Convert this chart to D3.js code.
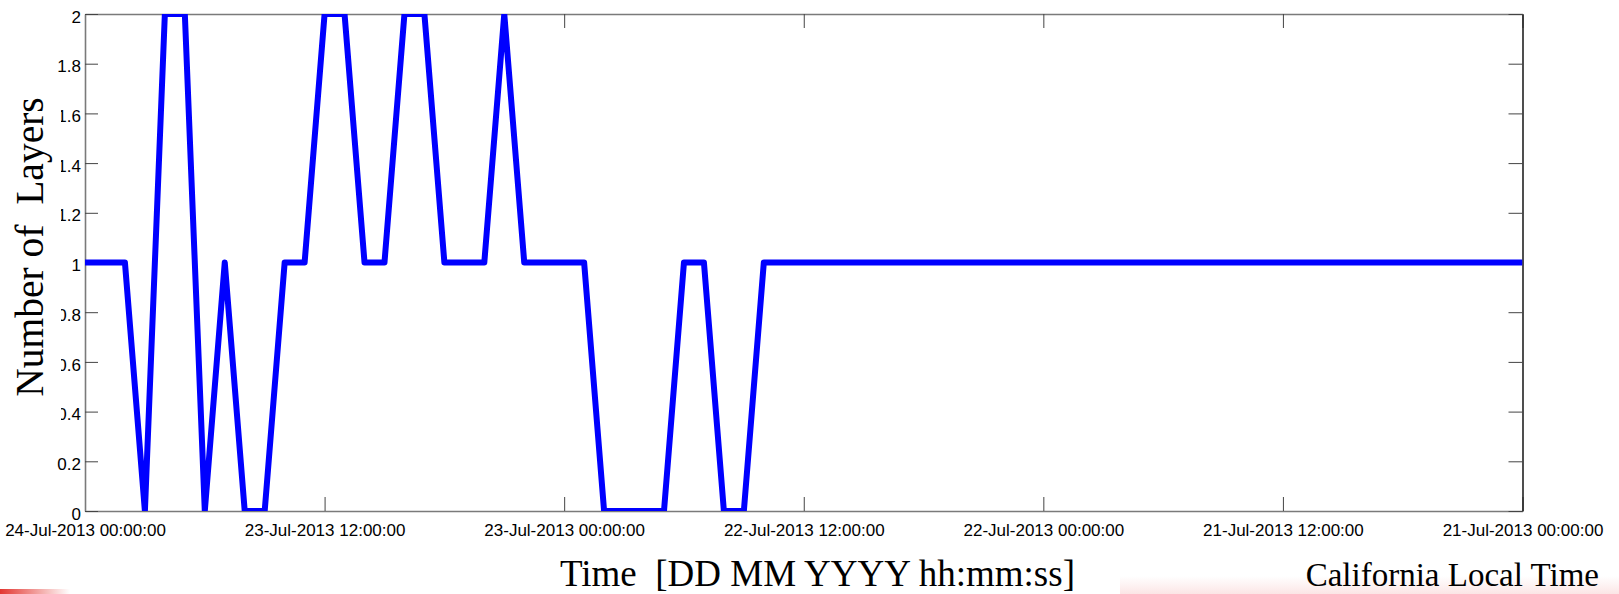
<!DOCTYPE html>
<html>
<head>
<meta charset="utf-8">
<script src="https://cdn.jsdelivr.net/npm/d3@7"></script>
<style>
  html, body { margin: 0; padding: 0; background: #fff; }
  svg { display: block; }
</style>
</head>
<body>
<div id="chart"></div>
<script>
// hourly number of layers, read left to right (24-Jul 00:00 back to 21-Jul 00:00)
var layers = [
  1, 1, 1, 0, 2, 2, 0, 1, 0, 0,
  1, 1, 2, 2, 1, 1, 2, 2, 1, 1,
  1, 2, 1, 1, 1, 1, 0, 0, 0, 0,
  1, 1, 0, 0, 1, 1, 1, 1, 1, 1,
  1, 1, 1, 1, 1, 1, 1, 1, 1, 1,
  1, 1, 1, 1, 1, 1, 1, 1, 1, 1,
  1, 1, 1, 1, 1, 1, 1, 1, 1, 1,
  1, 1, 1
];

var xTickLabels = [
  "24-Jul-2013 00:00:00", "23-Jul-2013 12:00:00", "23-Jul-2013 00:00:00",
  "22-Jul-2013 12:00:00", "22-Jul-2013 00:00:00", "21-Jul-2013 12:00:00",
  "21-Jul-2013 00:00:00"
];
var yTicks = [0, 0.2, 0.4, 0.6, 0.8, 1, 1.2, 1.4, 1.6, 1.8, 2];

var yTitle = "Number of  Layers";
var xTitle = "Time  [DD MM YYYY hh:mm:ss]";
var note = "California Local Time";

var width = 1619, height = 594;
var margin = {top: 14, right: 96.5, bottom: 83, left: 85};
var tickFont = "'Liberation Sans', Arial, sans-serif";
var titleFont = "'Liberation Serif', 'Times New Roman', serif";
var frameColor = "#7a7a7a";

var parseTime = d3.utcParse("%d-%b-%Y %H:%M:%S");
var formatTime = d3.utcFormat("%d-%b-%Y %H:%M:%S");
var xTickValues = xTickLabels.map(parseTime);

// hourly sample times, newest first so they line up with layers
var sampleTimes = d3.utcHour.range(
  xTickValues[xTickValues.length - 1],
  d3.utcHour.offset(xTickValues[0], 1)
).reverse();
var data = layers.map(function(v, i){ return {t: sampleTimes[i], v: v}; });

var svg = d3.select("#chart").append("svg")
  .attr("width", width)
  .attr("height", height);

// faint slide decoration along the bottom
var defs = svg.append("defs");
var pink = defs.append("linearGradient").attr("id", "pink")
  .attr("x1", 0).attr("y1", 0).attr("x2", 0).attr("y2", 1);
pink.append("stop").attr("offset", "0%").attr("stop-color", "#f3b0b0").attr("stop-opacity", 0);
pink.append("stop").attr("offset", "100%").attr("stop-color", "#f3a8a8").attr("stop-opacity", 0.3);
var red = defs.append("linearGradient").attr("id", "red");
red.append("stop").attr("offset", "0%").attr("stop-color", "#e0201a").attr("stop-opacity", 0.9);
red.append("stop").attr("offset", "100%").attr("stop-color", "#e0201a").attr("stop-opacity", 0);
svg.append("rect").attr("x", 1120).attr("y", 576).attr("width", 499).attr("height", 18)
  .attr("fill", "url(#pink)");
svg.append("rect").attr("x", 0).attr("y", 589).attr("width", 70).attr("height", 5)
  .attr("fill", "url(#red)");

var x = d3.scaleUtc()
  .domain([xTickValues[0], xTickValues[xTickValues.length - 1]])
  .range([margin.left, width - margin.right]);

var y = d3.scaleLinear()
  .domain([0, 2])
  .range([height - margin.bottom, margin.top]);

defs.append("clipPath").attr("id", "plotClip")
  .append("rect")
  .attr("x", margin.left).attr("y", margin.top)
  .attr("width", width - margin.left - margin.right)
  .attr("height", height - margin.top - margin.bottom);

var fmtY = function(d){ return String(+d.toFixed(1)); };

function styleAxis(g){
  g.select(".domain").attr("stroke", frameColor).attr("stroke-width", 1.6);
  g.selectAll(".tick line").attr("stroke", "#444").attr("stroke-width", 1);
  g.selectAll(".tick text")
    .attr("fill", "#000")
    .style("font-family", tickFont)
    .style("font-size", "17px");
}

// bottom axis with labels
svg.append("g")
  .attr("transform", "translate(0," + (height - margin.bottom) + ")")
  .call(d3.axisBottom(x).tickValues(xTickValues).tickFormat(formatTime)
    .tickSizeInner(-14).tickSizeOuter(0).tickPadding(13))
  .call(styleAxis);

// top axis, ticks only
svg.append("g")
  .attr("transform", "translate(0," + margin.top + ")")
  .call(d3.axisTop(x).tickValues(xTickValues).tickFormat("")
    .tickSizeInner(-14).tickSizeOuter(0))
  .call(styleAxis);

// left axis with labels
svg.append("g")
  .attr("transform", "translate(" + margin.left + ",0)")
  .call(d3.axisLeft(y).tickValues(yTicks).tickFormat(fmtY)
    .tickSizeInner(-13).tickSizeOuter(0).tickPadding(4))
  .call(styleAxis)
  .selectAll(".tick text").attr("dy", "0.48em");

// right axis, ticks only
svg.append("g")
  .attr("transform", "translate(" + (width - margin.right) + ",0)")
  .call(d3.axisRight(y).tickValues(yTicks).tickFormat("")
    .tickSizeInner(-14).tickSizeOuter(0))
  .call(styleAxis)
  .select(".domain").attr("stroke", "#222");

var line = d3.line()
  .x(function(d){ return x(d.t); })
  .y(function(d){ return y(d.v); });

svg.append("path")
  .datum(data)
  .attr("clip-path", "url(#plotClip)")
  .attr("d", line)
  .attr("fill", "none")
  .attr("stroke", "#0000ff")
  .attr("stroke-width", 6)
  .attr("stroke-linejoin", "round");

// y title sits on a white box that hides part of the tick labels
svg.append("rect")
  .attr("x", 0).attr("y", 92).attr("width", 61).attr("height", 340)
  .attr("fill", "#fff");

svg.append("text")
  .attr("transform", "translate(43,247) rotate(-90)")
  .attr("text-anchor", "middle")
  .style("white-space", "pre")
  .style("font-family", titleFont)
  .style("font-size", "39.5px")
  .attr("fill", "#000")
  .text(yTitle);

svg.append("text")
  .attr("x", 560).attr("y", 586)
  .style("white-space", "pre")
  .style("font-family", titleFont)
  .style("font-size", "37px")
  .attr("fill", "#000")
  .text(xTitle);

svg.append("text")
  .attr("x", 1599).attr("y", 586)
  .attr("text-anchor", "end")
  .style("font-family", titleFont)
  .style("font-size", "33px")
  .attr("fill", "#000")
  .text(note);
</script>
</body>
</html>
